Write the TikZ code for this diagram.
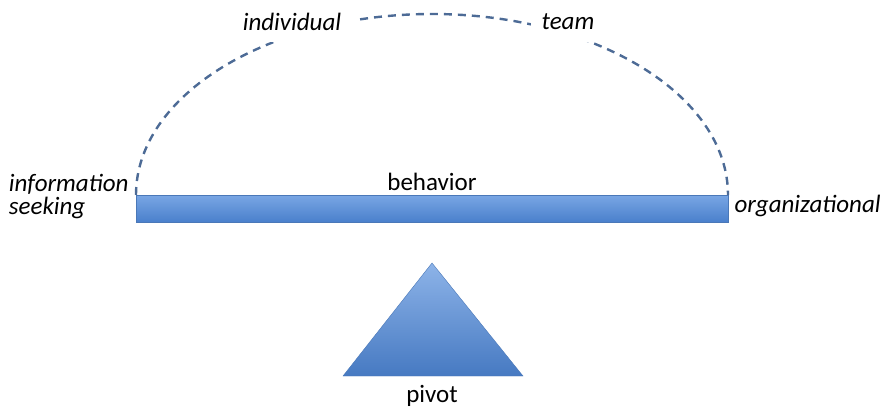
\documentclass[tikz,border=0pt]{standalone}
\usepackage{fontspec}
\setmainfont{Carlito}
\usetikzlibrary{positioning}

\definecolor{beamtop}{HTML}{79A6E4}
\definecolor{beambot}{HTML}{4A80CC}
\definecolor{beamline}{HTML}{4A78B8}
\definecolor{arcblue}{HTML}{4D6B96}

\begin{document}
\begin{tikzpicture}[x=1pt,y=-1pt, font=\fontsize{25}{29}\selectfont,
      sidelabel/.style={font=\fontsize{25}{23}\selectfont\itshape},
      toplabel/.style={sidelabel, fill=white, inner xsep=14pt, minimum height=40pt}]
      \useasboundingbox (0,0) rectangle (891,410);
      %\draw [help lines] (0,0) grid [step=50] (891,410);
      \shade [top color=beamtop, bottom color=beambot, draw=beamline, line width=0.6]
      (136,195) rectangle (728,222);
      \coordinate (left) at (136,195);
      \coordinate (right) at (728,195);
      \draw [arcblue, line width=2.4, dash pattern=on 8 off 6] (left)
      arc (180:360:296 and 181);
      \node [toplabel] (ind) at (292,22) {individual};
      \node [toplabel, inner xsep=11pt] (team) at (568,22) {team};
      \node (beh) at (432,182) {behavior};
      \node [sidelabel, left, align=left] (info) at (132,197) {information\\seeking};
      \node [sidelabel, right] (org) at (731,206) {organizational};
      % pivot
      \coordinate (apex) at (432,263);
      \shade [top color=beamtop!85!white, bottom color=beambot!95!black, draw=beamline, line width=0.4]
      (apex) -- (523,376) -- (343,376) -- cycle;
      \node (pivot) at (432,396) {pivot};
    \end{tikzpicture}
\end{document}
